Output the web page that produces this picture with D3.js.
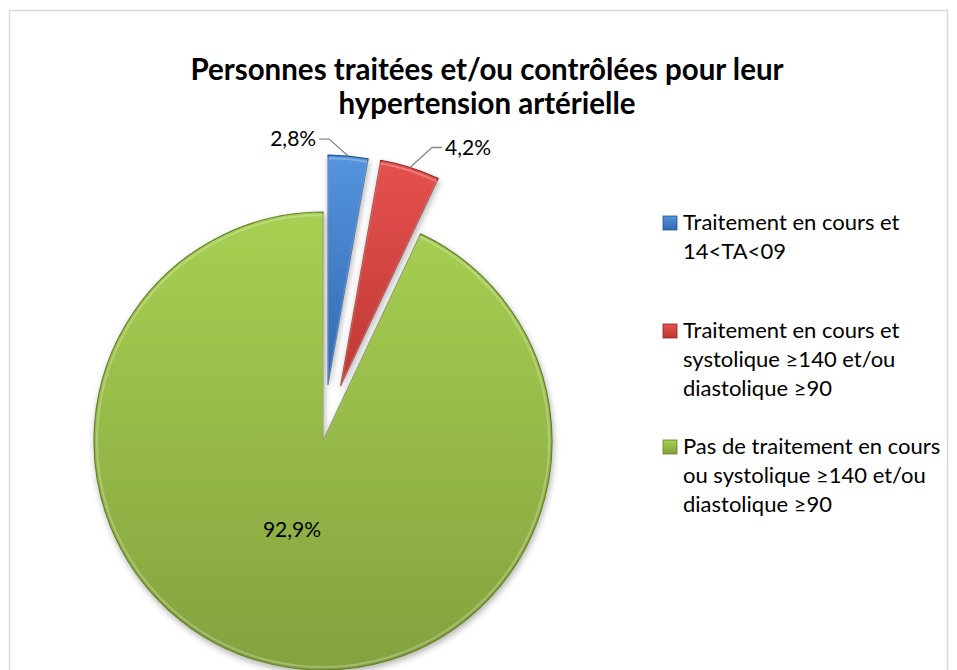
<!DOCTYPE html>
<html>
<head>
<meta charset="utf-8">
<script src="https://cdn.jsdelivr.net/npm/d3@7"></script>
<style>
  body { margin: 0; background: #fff; }
  text { font-family: Lato, "Liberation Sans", sans-serif; }
</style>
</head>
<body>
<div id="chart"></div>
<script>
const titleLines = ["Personnes traitées et/ou contrôlées pour leur", "hypertension artérielle"];
const categories = [
  "Traitement en cours et 14<TA<09",
  "Traitement en cours et systolique ≥140 et/ou diastolique ≥90",
  "Pas de traitement en cours ou systolique ≥140 et/ou diastolique ≥90",
];
const legendLines = [
  ["Traitement en cours et", "14<TA<09"],
  ["Traitement en cours et", "systolique ≥140 et/ou", "diastolique ≥90"],
  ["Pas de traitement en cours", "ou systolique ≥140 et/ou", "diastolique ≥90"],
];
const values = [2.8, 4.2, 92.9];
const valueLabels = ["2,8%", "4,2%", "92,9%"];

const width = 957,
  height = 670;
const cx = 323,
  cy = 441,
  radius = 229;

// look of each slice
const colors = [
  { top: "#5594dd", bottom: "#3169b3", edge: "#25528e" },
  { top: "#e5524e", bottom: "#bf3733", edge: "#8c2421" },
  { top: "#a7d052", bottom: "#84a23e", edge: "#667f2a" },
];
const explode = [57, 58, 0];
// leader line elbows (relative to the point on the slice edge)
const leaders = [
  { dx: -19, dy: -17, side: -1 },
  { dx: 22, dy: -20, side: 1 },
  null,
];
const legendTops = [230, 338, 454];
const lineHeight = 29;
const labelSize = 21;
const legendSize = 22;

const svg = d3
  .select("#chart")
  .append("svg")
  .attr("width", width)
  .attr("height", height);

const defs = svg.append("defs");

colors.forEach((c, i) => {
  const g = defs
    .append("linearGradient")
    .attr("id", "grad" + i)
    .attr("x1", 0)
    .attr("y1", 0)
    .attr("x2", 0)
    .attr("y2", 1);
  g.append("stop").attr("offset", "0%").attr("stop-color", c.top);
  g.append("stop").attr("offset", "100%").attr("stop-color", c.bottom);
});

const shadow = defs
  .append("filter")
  .attr("id", "shadow")
  .attr("x", "-20%")
  .attr("y", "-20%")
  .attr("width", "140%")
  .attr("height", "140%");
shadow
  .append("feDropShadow")
  .attr("dx", 1)
  .attr("dy", 3)
  .attr("stdDeviation", 3)
  .attr("flood-color", "#000")
  .attr("flood-opacity", 0.3);

// chart border
svg
  .append("rect")
  .attr("x", 9.5)
  .attr("y", 10.5)
  .attr("width", 938)
  .attr("height", 700)
  .attr("fill", "#fff")
  .attr("stroke", "#d9d9d9")
  .attr("stroke-width", 1.5);

// title
svg
  .append("text")
  .attr("x", 487)
  .attr("y", 80)
  .attr("text-anchor", "middle")
  .attr("font-size", 29.5)
  .attr("font-weight", "bold")
  .selectAll("tspan")
  .data(titleLines)
  .join("tspan")
  .attr("x", 487)
  .attr("dy", (d, i) => (i === 0 ? 0 : 34))
  .text((d) => d);

const pie = d3
  .pie()
  .sort(null)
  .value((d) => d);

const arcs = pie(values);

const arc = d3.arc().innerRadius(0).outerRadius(radius);

const offset = (d, i) => {
  const mid = (d.startAngle + d.endAngle) / 2;
  return [explode[i] * Math.sin(mid), -explode[i] * Math.cos(mid)];
};

const pieG = svg
  .append("g")
  .attr("transform", "translate(" + cx + "," + cy + ")");

const slices = pieG
  .selectAll(".slice")
  .data(arcs)
  .join("g")
  .attr("class", "slice")
  .attr("transform", (d, i) => "translate(" + offset(d, i) + ")");

slices
  .append("path")
  .attr("d", arc)
  .attr("fill", (d, i) => "url(#grad" + i + ")")
  .attr("stroke", (d, i) => colors[i].edge)
  .attr("stroke-width", 1.2)
  .attr("stroke-linejoin", "round")
  .attr("filter", "url(#shadow)");

// inner highlight to fake the bevel
slices
  .append("path")
  .attr("d", d3.arc().innerRadius(0).outerRadius(radius - 3))
  .attr("fill", "none")
  .attr("stroke", "#fff")
  .attr("stroke-opacity", 0.25)
  .attr("stroke-width", 2);

// labels with leader lines for the small slices
arcs.forEach((d, i) => {
  const [ox, oy] = offset(d, i);
  const mid = (d.startAngle + d.endAngle) / 2;
  const lead = leaders[i];
  if (lead) {
    const px = ox + radius * Math.sin(mid),
      py = oy - radius * Math.cos(mid);
    const ex = px + lead.dx,
      ey = py + lead.dy;
    const hx = ex + lead.side * 10;
    pieG
      .append("polyline")
      .attr("points", [px, py, ex, ey, hx, ey].join(","))
      .attr("fill", "none")
      .attr("stroke", "#888")
      .attr("stroke-width", 1.3);
    pieG
      .append("text")
      .attr("x", hx + lead.side * 3)
      .attr("y", ey + 7)
      .attr("text-anchor", lead.side < 0 ? "end" : "start")
      .attr("font-size", labelSize)
      .text(valueLabels[i]);
  } else {
    const labelArc = d3.arc().innerRadius(0).outerRadius(radius * 0.8);
    const [lx, ly] = labelArc.centroid(d);
    pieG
      .append("text")
      .attr("x", lx + ox - 11)
      .attr("y", ly + oy + 7)
      .attr("text-anchor", "middle")
      .attr("font-size", labelSize)
      .text(valueLabels[i]);
  }
});

// legend
const legend = svg
  .append("g")
  .selectAll(".legend")
  .data(categories)
  .join("g")
  .attr("class", "legend")
  .attr("transform", (d, i) => "translate(663," + legendTops[i] + ")");

legend
  .append("rect")
  .attr("x", 0)
  .attr("y", -14)
  .attr("width", 14)
  .attr("height", 14)
  .attr("fill", (d, i) => "url(#grad" + i + ")")
  .attr("stroke", (d, i) => colors[i].edge)
  .attr("stroke-width", 0.8);

legend
  .append("text")
  .attr("font-size", legendSize)
  .attr("fill", "#000")
  .selectAll("tspan")
  .data((d, i) => legendLines[i])
  .join("tspan")
  .attr("x", 20)
  .attr("y", (d, j) => j * lineHeight)
  .text((d) => d);
</script>
</body>
</html>
